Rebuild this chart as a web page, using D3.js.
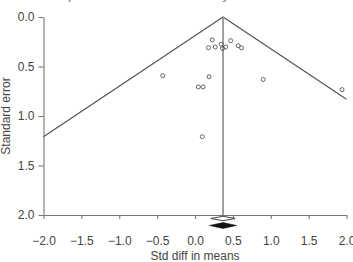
<!DOCTYPE html>
<html>
<head>
<meta charset="utf-8">
<script src="https://cdn.jsdelivr.net/npm/d3@7"></script>
<style>
  body { margin: 0; background: #fff; }
  svg { display: block; font-family: "Liberation Sans", Arial, sans-serif; }
</style>
</head>
<body>
<svg id="chart"></svg>
<script>
// study effects (std diff in means) and their standard errors
var effects = [0.228, 0.471, 0.178, 0.268, 0.346, 0.363, 0.405, 0.570, 0.614,
  -0.426, 0.185, 0.044, 0.106, 0.900, 0.096, 1.941]
var stdErrors = [0.232, 0.239, 0.311, 0.303, 0.276, 0.318, 0.303, 0.290, 0.312,
  0.593, 0.603, 0.707, 0.707, 0.631, 1.209, 0.734]

var meanEffect = 0.37
var xTicks = [-2.0, -1.5, -1.0, -0.5, 0.0, 0.5, 1.0, 1.5, 2.0]
var yTicks = [0.0, 0.5, 1.0, 1.5, 2.0]

// summary diamonds: [low, point, high]
var openDiamond = [0.21, 0.37, 0.53]
var filledDiamond = [0.19, 0.37, 0.55]

var width = 353, height = 262
var margin = { top: 17, left: 43.5, right: 6.5, bottom: 47 }

var svg = d3.select("#chart")
  .attr("width", width)
  .attr("height", height)

var x = d3.scaleLinear()
  .domain([-2, 2])
  .range([margin.left, width - margin.right])

var y = d3.scaleLinear()
  .domain([0, 2])
  .range([margin.top, height - margin.bottom])

var fmt = d3.format(".1f")

// cut off title at the top
svg.append("text")
  .attr("x", 18)
  .attr("y", -1)
  .attr("font-size", 15)
  .attr("fill", "#888")
  .text("Funnel plot of Standard error by Std diff in means")

// axes
var xAxis = svg.append("g")
  .attr("transform", "translate(0," + y(2) + ")")
  .call(d3.axisBottom(x).tickValues(xTicks).tickFormat(fmt)
    .tickSize(4).tickSizeOuter(0).tickPadding(17))

var yAxis = svg.append("g")
  .attr("transform", "translate(" + x(-2) + ",0)")
  .call(d3.axisLeft(y).tickValues(yTicks).tickFormat(fmt)
    .tickSize(5).tickSizeOuter(0).tickPadding(4))

svg.selectAll(".domain, .tick line")
  .attr("stroke", "#777")
  .attr("stroke-width", 1.1)
svg.selectAll(".tick text")
  .attr("fill", "#444")
  .attr("font-size", 12)
  .attr("font-family", "Liberation Sans, Arial, sans-serif")

// axis titles
svg.append("text")
  .attr("x", (x(-2) + x(2)) / 2)
  .attr("y", 260)
  .attr("text-anchor", "middle")
  .attr("font-size", 12)
  .attr("fill", "#444")
  .text("Std diff in means")

svg.append("text")
  .attr("transform", "translate(10," + y(1) + ") rotate(-90)")
  .attr("text-anchor", "middle")
  .attr("font-size", 12)
  .attr("fill", "#444")
  .text("Standard error")

// funnel lines (mean +/- 1.96 SE), clipped to the x domain
var seLeft = (meanEffect - (-2)) / 1.96
var seRight = (2 - meanEffect) / 1.96
var funnel = [
  [meanEffect - 1.96 * seLeft, seLeft],
  [meanEffect, 0],
  [meanEffect + 1.96 * seRight, seRight]
]
svg.append("path")
  .attr("d", d3.line().x(d => x(d[0])).y(d => y(d[1]))(funnel))
  .attr("fill", "none")
  .attr("stroke", "#555")
  .attr("stroke-width", 1.2)

// mean line
svg.append("line")
  .attr("x1", x(meanEffect))
  .attr("x2", x(meanEffect))
  .attr("y1", y(0))
  .attr("y2", y(2))
  .attr("stroke", "#888")
  .attr("stroke-width", 1.6)

// study points
svg.selectAll("circle.study")
  .data(effects)
  .enter()
  .append("circle")
  .attr("class", "study")
  .attr("cx", d => x(d))
  .attr("cy", (d, i) => y(stdErrors[i]))
  .attr("r", 2)
  .attr("fill", "none")
  .attr("stroke", "#555")
  .attr("stroke-width", 0.9)

// summary diamonds under the axis
function diamond(d, cy, h) {
  return "M" + x(d[0]) + "," + cy +
    "L" + x(d[1]) + "," + (cy - h) +
    "L" + x(d[2]) + "," + cy +
    "L" + x(d[1]) + "," + (cy + h) + "Z"
}
svg.append("path")
  .attr("d", diamond(openDiamond, 218.5, 2.2))
  .attr("fill", "#fff")
  .attr("stroke", "#333")
  .attr("stroke-width", 0.9)

svg.append("path")
  .attr("d", diamond(filledDiamond, 225.5, 3))
  .attr("fill", "#111")
  .attr("stroke", "#111")
  .attr("stroke-width", 0.5)
</script>
</body>
</html>
